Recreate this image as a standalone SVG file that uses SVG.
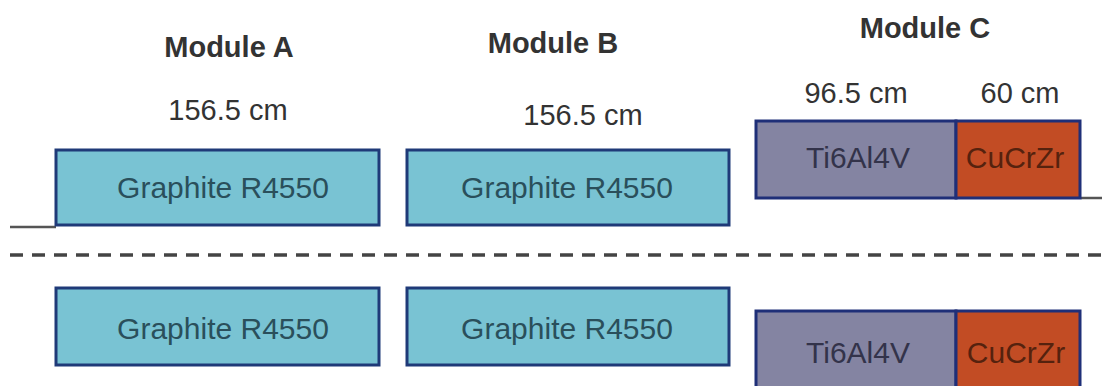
<svg xmlns="http://www.w3.org/2000/svg" width="1102" height="386" viewBox="0 0 1102 386">
<style>
.lbl{font-family:"Liberation Sans",Arial,sans-serif;font-size:29px;fill:#333;text-anchor:middle}
.bx{font-size:30px}
.hd{font-weight:bold}
.g{fill:#79c3d3;stroke:#1f3a78;stroke-width:3}
.ti{fill:#8484a2;stroke:#1f2f78;stroke-width:3}
.cu{fill:#c24c24;stroke:#1f2f78;stroke-width:3}
.gt{fill:#2a4f5b}
.tt{fill:#33334a}
.ct{fill:#55220e}
.ln{stroke:#555;stroke-width:2.5;fill:none}
.dash{stroke:#444;stroke-width:3.5;stroke-dasharray:13 9;fill:none}
</style>
<rect width="1102" height="386" fill="#fff"/>
<g id="connectors">
<line class="ln" x1="10" y1="227" x2="56" y2="227"/>
<line class="ln" x1="1081" y1="198" x2="1102" y2="198"/>
<line class="dash" x1="10" y1="255" x2="1102" y2="255"/>
</g>
<g id="labels">
<text class="lbl hd" x="229" y="57">Module A</text>
<text class="lbl hd" x="553" y="53">Module B</text>
<text class="lbl hd" x="925" y="38">Module C</text>
<text class="lbl" x="228" y="120">156.5 cm</text>
<text class="lbl" x="583" y="125">156.5 cm</text>
<text class="lbl" x="856" y="103">96.5 cm</text>
<text class="lbl" x="1020" y="103">60 cm</text>
</g>
<g id="top-a">
<rect class="g" x="56" y="150" width="323" height="75"/>
<text class="lbl bx gt" x="223" y="198">Graphite R4550</text>
</g>
<g id="top-b">
<rect class="g" x="407" y="150" width="322" height="75"/>
<text class="lbl bx gt" x="567" y="198">Graphite R4550</text>
</g>
<g id="top-c">
<rect class="ti" x="756" y="121" width="200" height="77"/>
<rect class="cu" x="956" y="121" width="124" height="77"/>
<text class="lbl bx tt" x="858" y="168">Ti6Al4V</text>
<text class="lbl bx ct" x="1015" y="168">CuCrZr</text>
</g>
<g id="bottom-a">
<rect class="g" x="56" y="288" width="323" height="77"/>
<text class="lbl bx gt" x="223" y="339">Graphite R4550</text>
</g>
<g id="bottom-b">
<rect class="g" x="407" y="288" width="322" height="77"/>
<text class="lbl bx gt" x="567" y="339">Graphite R4550</text>
</g>
<g id="bottom-c">
<rect class="ti" x="756" y="311" width="200" height="78"/>
<rect class="cu" x="956" y="311" width="124" height="78"/>
<text class="lbl bx tt" x="858" y="363">Ti6Al4V</text>
<text class="lbl bx ct" x="1016" y="363">CuCrZr</text>
</g>
</svg>
